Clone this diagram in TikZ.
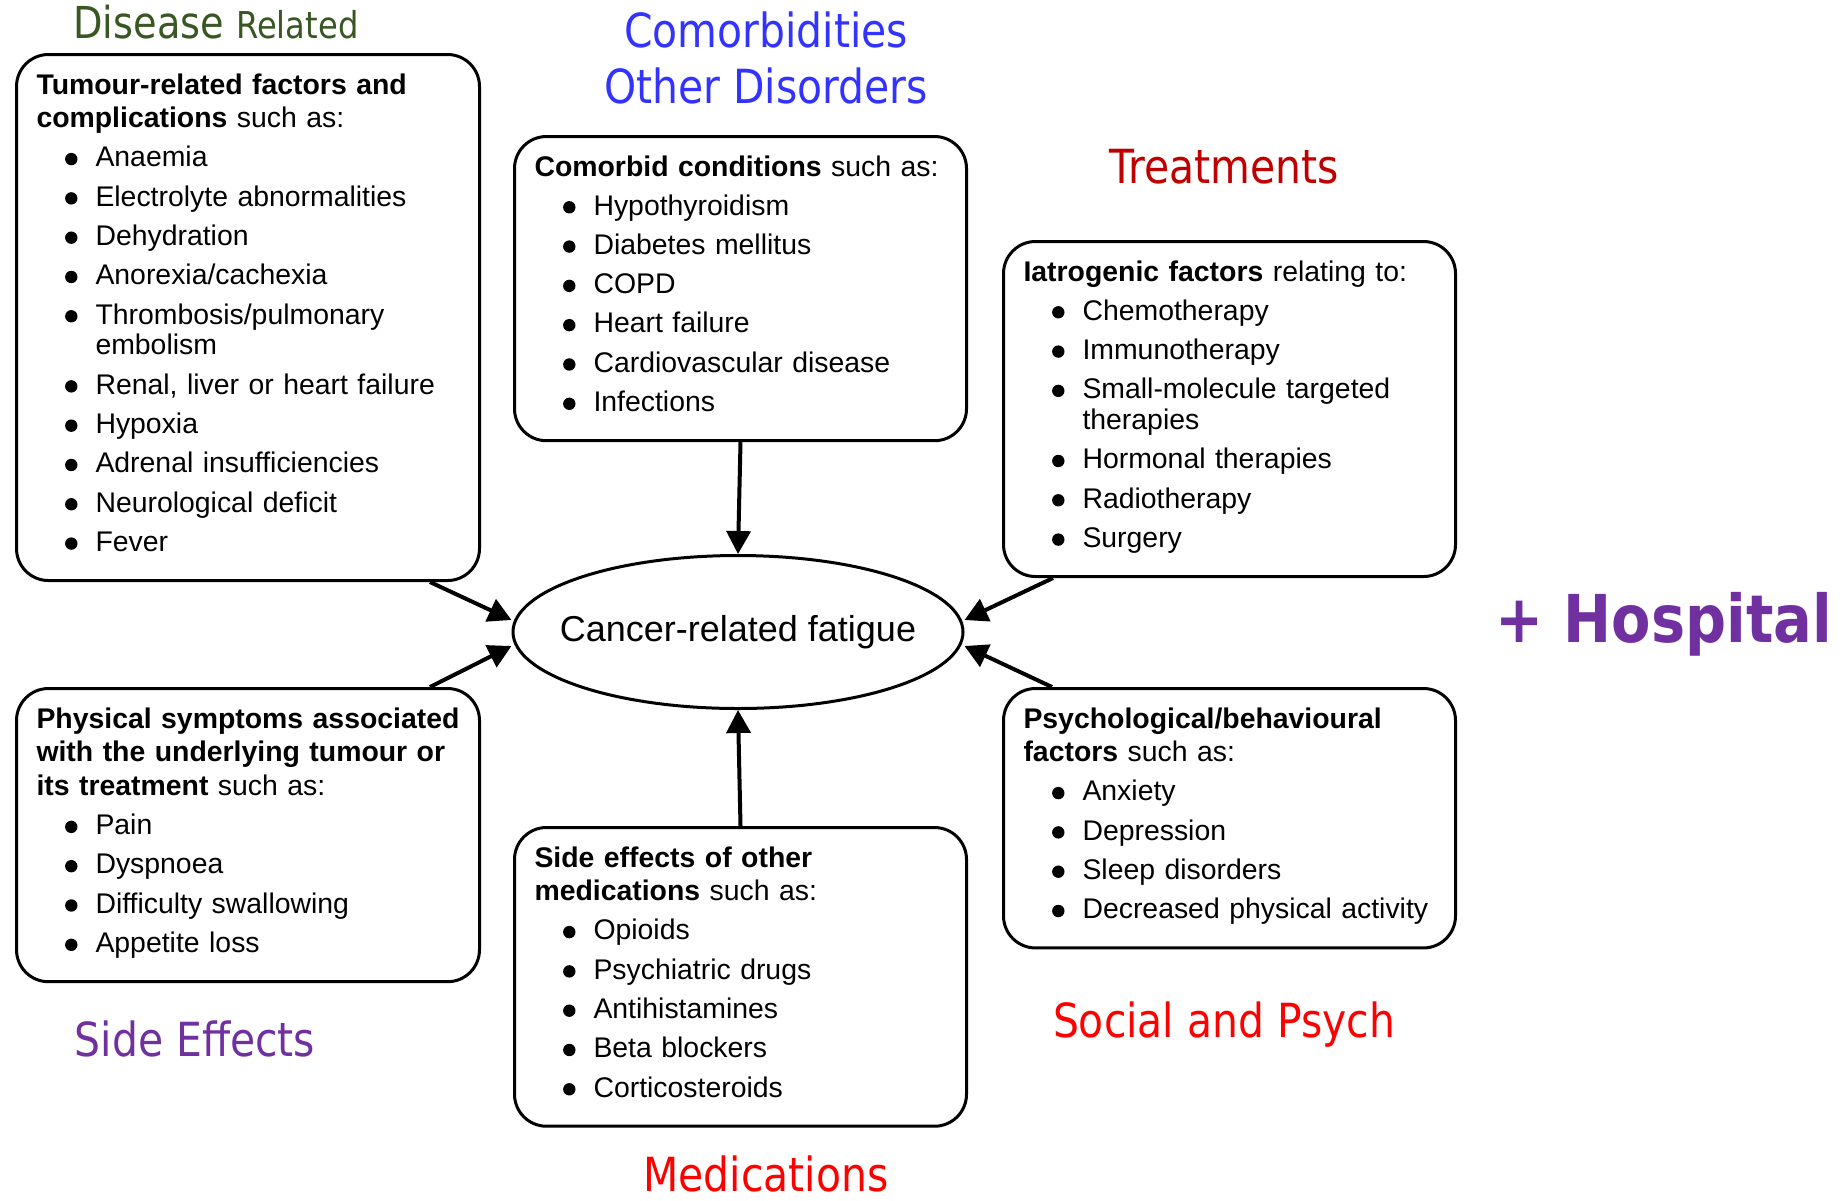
\documentclass[tikz,border=0pt]{standalone}
\usepackage{fontspec}
\setmainfont{Liberation Sans}
\newfontfamily\lblfont[FakeStretch=0.87]{DejaVu Sans}
\usepackage{enumitem}
\usetikzlibrary{arrows.meta,shapes.geometric}
\definecolor{dgreen}{RGB}{56,87,35}
\definecolor{cblue}{RGB}{51,51,255}
\definecolor{dred}{RGB}{192,0,0}
\definecolor{cpurple}{RGB}{112,48,160}
\definecolor{cred}{RGB}{255,0,0}
\newcommand{\dotlabel}{\tikz[baseline=0pt]\fill (0,3.9pt) circle (3.1pt);}
\setlist[itemize]{label=\dotlabel, leftmargin=29.5pt, labelsep=9pt, itemsep=2.75pt, parsep=0pt, topsep=2.6pt, partopsep=0pt}

\begin{document}
\begin{tikzpicture}[x=0.5pt, y=-0.5pt,
  factor/.style={draw, line width=1.5pt, rounded corners=16pt, anchor=north west, inner xsep=10pt, inner ysep=9.5pt, align=left, font=\fontsize{14.2}{16.9}\selectfont},
  wide/.style={factor, text width=211.5pt},
  narrow/.style={factor, text width=206pt},
  heading/.style={anchor=base, font=\lblfont\fontsize{23.5}{28}\selectfont},
  feed/.style={line width=2pt, -{Triangle[length=11.5pt, width=12pt]}}]
\path[use as bounding box, fill=white] (0,0) rectangle (1846,1200);

\node[wide] (tumour) at (15,53) {\textbf{\mbox{Tumour-related factors and}\\complications} such as:
  \begin{itemize}
    \item Anaemia
    \item Electrolyte abnormalities
    \item Dehydration
    \item Anorexia/cachexia
    \item Thrombosis/pulmonary\\[-1.5pt]embolism
    \item Renal, liver or heart failure
    \item Hypoxia
    \item Adrenal insufficiencies
    \item Neurological deficit
    \item Fever\strut
  \end{itemize}};
\node[narrow] (comorb) at (513,135) {\mbox{\textbf{Comorbid conditions} such as:}
  \begin{itemize}
    \item Hypothyroidism
    \item Diabetes mellitus
    \item COPD
    \item Heart failure
    \item Cardiovascular disease
    \item Infections\strut
  \end{itemize}};
\node[narrow] (iatro) at (1002,240) {\mbox{\textbf{Iatrogenic factors} relating to:}
  \begin{itemize}
    \item Chemotherapy
    \item Immunotherapy
    \item Small-molecule targeted\\[-1.5pt]therapies
    \item Hormonal therapies
    \item Radiotherapy
    \item Surgery\strut
  \end{itemize}};
\node[wide] (physical) at (15,687) {\textbf{\mbox{Physical symptoms associated}\\\mbox{with the underlying tumour or}\\its treatment} such as:
  \begin{itemize}
    \item Pain
    \item Dyspnoea
    \item Difficulty swallowing
    \item Appetite loss\strut
  \end{itemize}};
\node[narrow] (meds) at (513,826) {\textbf{Side effects of other\\medications} such as:
  \begin{itemize}
    \item Opioids
    \item Psychiatric drugs
    \item Antihistamines
    \item Beta blockers
    \item Corticosteroids\strut
  \end{itemize}};
\node[narrow] (psych) at (1002,687) {\textbf{\mbox{Psychological/behavioural}\\factors} such as:
  \begin{itemize}
    \item Anxiety
    \item Depression
    \item Sleep disorders
    \item \mbox{Decreased physical activity}\strut
  \end{itemize}};
\node[draw, ellipse, line width=1.5pt, minimum width=225pt, minimum height=76.5pt, inner sep=0pt, font=\fontsize{18}{20}\selectfont] (fatigue) at (738,632) {\makebox[0pt]{Cancer-related fatigue}};

\node[heading, text=dgreen] (disease) at (216,38) {\fontsize{22}{26}\selectfont Disease \fontsize{18.5}{22}\selectfont Related};
\node[heading, text=cblue] (comorbhead) at (766,47) {Comorbidities};
\node[heading, text=cblue] (otherhead) at (766,103) {Other Disorders};
\node[heading, text=dred] (treathead) at (1224,183) {Treatments};
\node[heading, text=cpurple, font=\lblfont\bfseries\fontsize{33}{40}\selectfont] (hospital) at (1664,642) {+ Hospital};
\node[heading, text=cred] (socialhead) at (1224,1037) {Social and Psych};
\node[heading, text=cpurple] (sidehead) at (195,1056) {Side Effects};
\node[heading, text=cred] (medshead) at (766,1191) {Medications};

\draw[feed] ([xshift=-25.5pt]tumour.south east) -- ([yshift=6pt]fatigue.west);
\draw[feed] ([xshift=-25.5pt]physical.north east) -- ([yshift=-7pt]fatigue.west);
\draw[feed] (comorb.south) -- (fatigue.north);
\draw[feed] (meds.north) -- (fatigue.south);
\draw[feed] ([xshift=25.5pt]iatro.south west) -- ([yshift=6pt]fatigue.east);
\draw[feed] ([xshift=25pt]psych.north west) -- ([yshift=-7pt]fatigue.east);
\end{tikzpicture}
\end{document}
